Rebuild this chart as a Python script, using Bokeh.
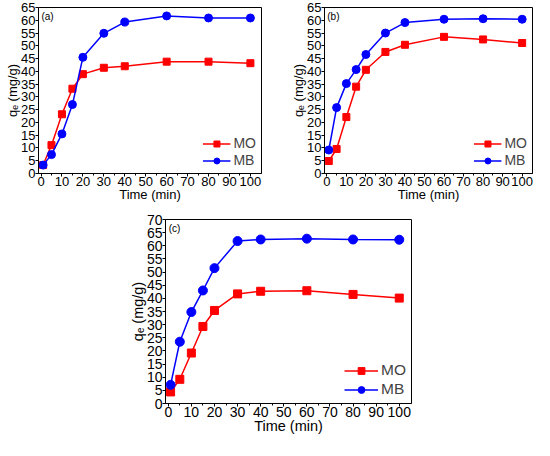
from bokeh.plotting import figure
from bokeh.models import Label, Spacer, Legend, LegendItem, FixedTicker
from bokeh.layouts import column, row
from bokeh.embed import file_html
from bokeh.resources import INLINE

time_min = [1, 5, 10, 15, 20, 30, 40, 60, 80, 100]

a_mo = [3.3, 11.1, 23.2, 33.2, 38.9, 41.4, 42.0, 43.8, 43.8, 43.2]
a_mb = [3.3, 7.4, 15.5, 27.0, 45.5, 54.9, 59.3, 61.7, 60.9, 60.9]

b_mo = [4.9, 9.6, 22.1, 34.0, 40.6, 47.6, 50.4, 53.5, 52.5, 51.1]
b_mb = [9.2, 25.8, 35.2, 40.7, 46.6, 55.0, 59.1, 60.4, 60.6, 60.4]

c_mo = [4.4, 9.2, 19.2, 29.3, 35.4, 41.7, 42.7, 42.9, 41.5, 40.1]
c_mb = [7.1, 23.5, 34.8, 43.0, 51.5, 61.8, 62.4, 62.7, 62.4, 62.3]

x_ticks = list(range(0, 101, 10))
x_minor = list(range(5, 101, 10))
FONT = "Liberation Sans"


def panel(tag, mo, mb, ymax, w, h, bl, br, bt, bb, tick_fs, lab_fs, leg_fs, glyph_w, lab_h, msq, mci):
    p = figure(width=w, height=h, x_range=(-1.2, 105.3), y_range=(0, ymax),
               output_backend="svg", toolbar_location=None,
               min_border_left=bl, min_border_right=br,
               min_border_top=bt, min_border_bottom=bb)
    p.xgrid.visible = False
    p.ygrid.visible = False
    p.outline_line_color = "black"
    p.outline_line_width = 1
    p.background_fill_color = "white"

    p.xaxis.ticker = FixedTicker(ticks=x_ticks, minor_ticks=x_minor)
    p.yaxis.ticker = FixedTicker(ticks=list(range(0, ymax + 1, 5)))
    for ax in (p.xaxis[0], p.yaxis[0]):
        ax.axis_line_color = "black"
        ax.major_tick_line_color = "black"
        ax.minor_tick_line_color = "black"
        ax.major_tick_out = 3
        ax.major_tick_in = 0
        ax.minor_tick_out = 2
        ax.minor_tick_in = 0
        ax.major_label_text_font = FONT
        ax.major_label_text_color = "black"
        ax.major_label_text_font_size = tick_fs
        ax.axis_label_text_font = FONT
        ax.axis_label_text_font_style = "normal"
        ax.axis_label_text_color = "black"
        ax.axis_label_text_font_size = lab_fs
        ax.major_label_standoff = 0
        ax.axis_label_standoff = -2
    p.yaxis.minor_tick_line_color = None
    p.xaxis.axis_label = "Time (min)"
    p.yaxis.axis_label = "q\u2091 (mg/g)"

    l1 = p.line(time_min, mo, line_color="#ff0000", line_width=1.5)
    m1 = p.scatter(time_min, mo, marker="square", size=msq, fill_color="#ff0000", line_color="#ff0000")
    l2 = p.line(time_min, mb, line_color="#0000ff", line_width=1.5)
    m2 = p.scatter(time_min, mb, marker="circle", size=mci, fill_color="#0000ff", line_color="#0000ff")

    legend = Legend(items=[LegendItem(label="MO", renderers=[l1, m1]),
                           LegendItem(label="MB", renderers=[l2, m2])],
                    location="bottom_right", border_line_color=None,
                    background_fill_alpha=0, label_text_font=FONT,
                    label_text_font_size=leg_fs, glyph_width=glyph_w,
                    glyph_height=lab_h, spacing=1, padding=0, margin=5,
                    label_standoff=3, label_height=lab_h)
    p.add_layout(legend)

    p.add_layout(Label(x=0.2, y=ymax, y_offset=-3, text=tag, text_baseline="top",
                       text_font=FONT, text_font_size="10px", text_color="black"))
    return p


fa = panel("(a)", a_mo, a_mb, 65, 266, 210, 38, 5, 7, 35, "13px", "13px", "14px", 28, 15, 7, 8)
fb = panel("(b)", b_mo, b_mb, 65, 268, 210, 58, 2, 7, 37, "13px", "13px", "14px", 28, 15, 7, 8)
fc = panel("(c)", c_mo, c_mb, 70, 291, 230, 38, 6, 9, 37, "14px", "14.5px", "15.5px", 34, 17, 8, 9)

layout = column(row(fa, fb), row(Spacer(width=126, height=230), fc))

open("out.html", "w").write(file_html(layout, INLINE))
